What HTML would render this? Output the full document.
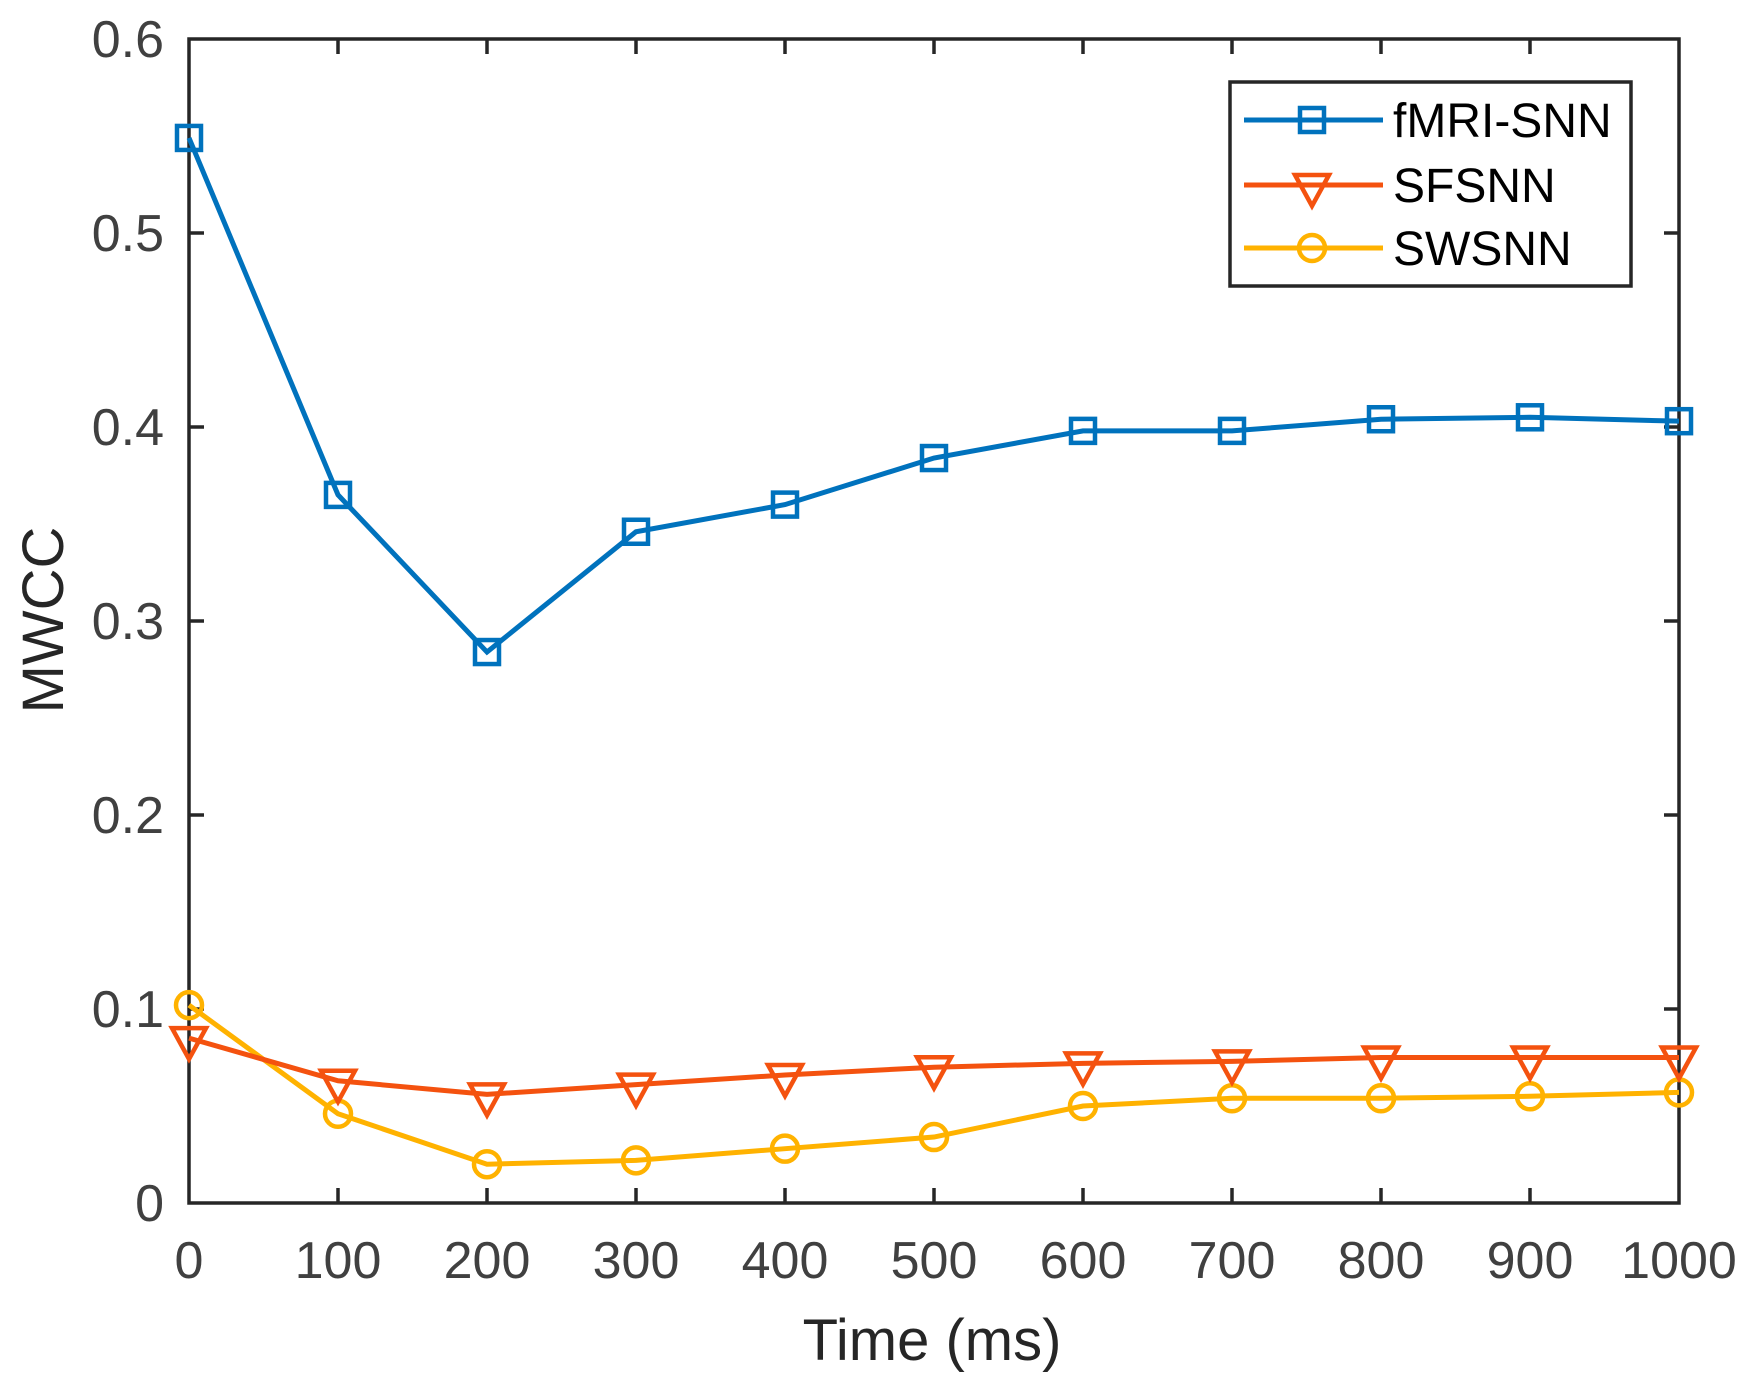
<!DOCTYPE html>
<html><head><meta charset="utf-8"><style>
html,body{margin:0;padding:0;background:#fff}
svg{display:block}
</style></head><body>
<svg id="s" width="1756" height="1382" viewBox="0 0 1756 1382" xmlns="http://www.w3.org/2000/svg" font-family="Liberation Sans, Arial, sans-serif">
<rect width="1756" height="1382" fill="#fff"/>
<g id="ticks" stroke="#262626" stroke-width="3.5"></g>
<g fill="#404040" font-size="52" text-anchor="end">
<text x="164" y="1221">0</text>
<text x="164" y="1027">0.1</text>
<text x="164" y="833">0.2</text>
<text x="164" y="639">0.3</text>
<text x="164" y="445">0.4</text>
<text x="164" y="251">0.5</text>
<text x="164" y="57">0.6</text>
</g>
<g fill="#404040" font-size="52" text-anchor="middle">
<text x="189" y="1278">0</text>
<text x="338" y="1278">100</text>
<text x="487" y="1278">200</text>
<text x="636" y="1278">300</text>
<text x="785" y="1278">400</text>
<text x="934" y="1278">500</text>
<text x="1083" y="1278">600</text>
<text x="1232" y="1278">700</text>
<text x="1381" y="1278">800</text>
<text x="1530" y="1278">900</text>
<text x="1679" y="1278">1000</text>
</g>
<text x="932" y="1360" font-size="58" fill="#262626" text-anchor="middle">Time (ms)</text>
<text transform="translate(63,620) rotate(-90)" font-size="58" fill="#262626" text-anchor="middle">MWCC</text>
<g id="series"></g>
<rect x="1230" y="82" width="401" height="204" fill="#fff" stroke="#262626" stroke-width="3.5"/>
<g stroke-width="5" fill="none">
<line x1="1244" y1="120" x2="1383" y2="120" stroke="#0072BD"/>
<rect x="1300" y="108" width="24" height="24" stroke="#0072BD" stroke-width="4.5"/>
<line x1="1244" y1="185" x2="1383" y2="185" stroke="#F4520F"/>
<polygon points="1295,175 1329,175 1312,206" stroke="#F4520F" stroke-width="4.5"/>
<line x1="1244" y1="248" x2="1383" y2="248" stroke="#FFB200"/>
<circle cx="1312" cy="248" r="13" stroke="#FFB200" stroke-width="4.5"/>
</g>
<g font-size="48" fill="#000">
<text x="1393" y="137">fMRI-SNN</text>
<text x="1393" y="202">SFSNN</text>
<text x="1393" y="265">SWSNN</text>
</g>
</svg>
<script>
const NS="http://www.w3.org/2000/svg";
const X=t=>189+t*1.49, Y=v=>1203-v*1940;
const tk=document.getElementById('ticks');
function ln(p,x1,y1,x2,y2){const l=document.createElementNS(NS,'line');l.setAttribute('x1',x1);l.setAttribute('y1',y1);l.setAttribute('x2',x2);l.setAttribute('y2',y2);p.appendChild(l);}
for(let i=1;i<10;i++){const x=X(i*100);ln(tk,x,1203,x,1188);ln(tk,x,39,x,54);}
for(let i=1;i<6;i++){const y=Y(i*0.1);ln(tk,189,y,204,y);ln(tk,1679,y,1664,y);}
const fr=document.createElementNS(NS,'rect');fr.setAttribute('x',189);fr.setAttribute('y',39);fr.setAttribute('width',1490);fr.setAttribute('height',1164);fr.setAttribute('fill','none');tk.appendChild(fr);
const S=[
 ['#0072BD','sq',[0.549,0.365,0.284,0.346,0.360,0.384,0.398,0.398,0.404,0.405,0.403]],
 ['#F4520F','tri',[0.085,0.063,0.056,0.061,0.066,0.070,0.072,0.073,0.075,0.075,0.075]],
 ['#FFB200','ci',[0.102,0.046,0.020,0.022,0.028,0.034,0.050,0.054,0.054,0.055,0.057]]];
const g=document.getElementById('series');
for(const [c,m,d] of S.slice().reverse()){
 const pl=document.createElementNS(NS,'polyline');
 pl.setAttribute('points',d.map((v,i)=>X(i*100)+','+Y(v)).join(' '));
 pl.setAttribute('fill','none');pl.setAttribute('stroke',c);pl.setAttribute('stroke-width',5);g.appendChild(pl);
 d.forEach((v,i)=>{const x=X(i*100),y=Y(v);let e;
  if(m=='sq'){e=document.createElementNS(NS,'rect');e.setAttribute('x',x-12);e.setAttribute('y',y-12);e.setAttribute('width',24);e.setAttribute('height',24);}
  else if(m=='tri'){e=document.createElementNS(NS,'polygon');e.setAttribute('points',`${x-17},${y-10} ${x+17},${y-10} ${x},${y+21}`);}
  else{e=document.createElementNS(NS,'circle');e.setAttribute('cx',x);e.setAttribute('cy',y);e.setAttribute('r',13);}
  e.setAttribute('fill','none');e.setAttribute('stroke',c);e.setAttribute('stroke-width',4.5);g.appendChild(e);});
}
</script>
</body></html>
